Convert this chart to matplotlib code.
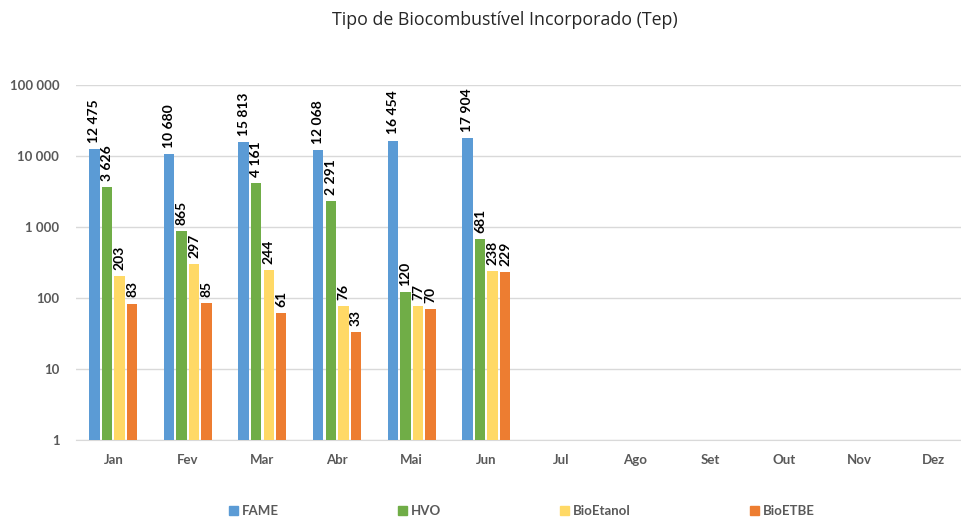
import matplotlib.pyplot as plt
import numpy as np
from matplotlib.patches import Patch

months = ["Jan", "Fev", "Mar", "Abr", "Mai", "Jun", "Jul", "Ago", "Set", "Out", "Nov", "Dez"]
fame = [12475, 10680, 15813, 12068, 16454, 17904]
hvo = [3626, 865, 4161, 2291, 120, 681]
bioetanol = [203, 297, 244, 76, 77, 238]
bioetbe = [83, 85, 61, 33, 70, 229]
series_names = ["FAME", "HVO", "BioEtanol", "BioETBE"]
colors = ["#5B9BD5", "#70AD47", "#FFD966", "#ED7D31"]
yticks = [1, 10, 100, 1000, 10000, 100000]

plt.rcParams['font.family'] = ['Lato', 'DejaVu Sans']

fig = plt.figure(figsize=(9.62, 5.18), dpi=100)
ax = fig.add_axes([76/962, 1-440/518, (971-76)/962, (440-85)/518])

def fmt(v):
    return f"{v:,}".replace(",", " ")

x = np.arange(len(months))
w = 0.14
step = 0.168
offsets = [-1.5*step, -0.5*step, 0.5*step, 1.5*step]
for s, (vals, c, off) in enumerate(zip([fame, hvo, bioetanol, bioetbe], colors, offsets)):
    xs = x[:len(vals)] + off
    ax.bar(xs, vals, width=w, color=c, zorder=3)
    for xi, v in zip(xs, vals):
        ax.annotate(fmt(v), (xi, v), xytext=(0, 4.5), textcoords="offset points",
                    rotation=90, ha="center", va="bottom", fontsize=10,
                    fontweight="bold", color="#000000", zorder=4)

ax.set_yscale("log")
ax.set_ylim(1, 100000)
ax.set_xlim(-0.5, 11.5)
ax.set_yticks(yticks)
ax.set_yticklabels([fmt(v) for v in yticks])
ax.minorticks_off()
ax.set_xticks(x)
ax.set_xticklabels(months)
for lbl in ax.get_xticklabels() + ax.get_yticklabels():
    lbl.set_fontweight("bold")
    lbl.set_color("#595959")
    lbl.set_fontsize(9.5)
ax.tick_params(length=0, pad=10)
ax.tick_params(axis="y", pad=12)
ax.grid(axis="y", color="#D9D9D9", linewidth=1, zorder=0)
for sp in ["top", "right", "left"]:
    ax.spines[sp].set_visible(False)
ax.spines["bottom"].set_color("#D9D9D9")

fig.text(0.525, 1-20/518, "Tipo de Biocombustível Incorporado (Tep)", ha="center", va="center",
         fontsize=12.8, color="#262626", family=["Open Sans", "DejaVu Sans"])

handles = [Patch(color=c, label=n) for c, n in zip(colors, series_names)]
leg = fig.legend(handles=handles, loc="center", bbox_to_anchor=(0.5425, 1-511/518), ncol=4,
                 frameon=False, handlelength=0.7, handleheight=0.7, handletextpad=0.3,
                 columnspacing=9.0, fontsize=9.5)
for t in leg.get_texts():
    t.set_fontweight("bold")
    t.set_color("#595959")

fig.savefig("out.png", dpi=100)
